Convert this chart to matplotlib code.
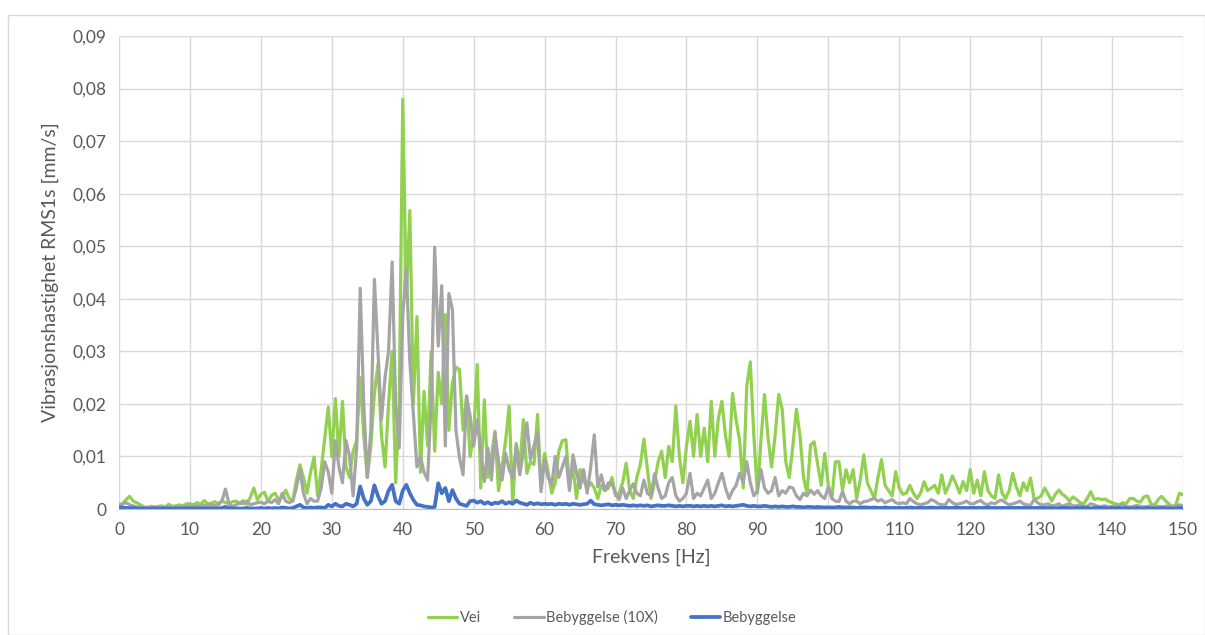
import matplotlib
matplotlib.use('Agg')
import matplotlib.pyplot as plt
import numpy as np
from matplotlib.patches import Rectangle
from matplotlib.ticker import FuncFormatter, MultipleLocator

# frequency axis, 0.5 Hz steps from 0 to 150 Hz
freq = np.arange(0, 150.5, 0.5)

# Vei, RMS 1s velocity in 1e-3 mm/s
vei = [
    0.8, 1.0, 1.8, 2.4, 1.5, 1.2, 0.8, 0.4, 0.3, 0.5, 0.4, 0.5, 0.6, 0.4, 0.9, 0.5, 0.6, 0.8, 0.6, 1.0, 1.0,
    0.8, 1.2, 0.9, 1.6, 1.0, 1.1, 1.4, 1.0, 1.6, 1.2, 1.0, 1.4, 1.5, 1.0, 1.6, 0.9, 2.2, 4.0, 1.8, 2.8,
    3.2, 1.4, 2.6, 3.0, 1.8, 2.2, 3.6, 2.0, 1.6, 5.5, 8.4, 6.0, 3.0, 7.0, 9.9, 2.5, 7.5, 13.5, 19.4, 10.0,
    21.0, 10.0, 20.5, 8.0, 6.0, 11.0, 13.0, 25.0, 14.0, 6.0, 12.0, 22.0, 27.5, 14.0, 8.0, 20.0, 30.0, 5.0, 20.0, 78.0,
    40.0, 56.8, 20.0, 36.6, 7.0, 22.4, 12.0, 30.0, 11.0, 26.0, 20.0, 37.0, 15.0, 24.0, 27.0, 26.5, 15.0, 21.5, 10.0, 14.0,
    27.5, 4.0, 20.8, 6.0, 10.0, 14.8, 3.5, 8.0, 13.0, 19.6, 1.0, 12.5, 8.0, 17.0, 6.8, 9.0, 8.5, 18.0, 4.0, 10.6,
    7.0, 3.0, 5.0, 11.0, 13.0, 13.2, 4.5, 8.0, 2.0, 7.5, 5.5, 4.0, 5.0, 4.0, 2.0, 4.5, 3.5, 4.0, 6.0, 2.5,
    3.0, 5.0, 8.7, 3.5, 2.0, 6.0, 8.5, 13.3, 7.5, 2.0, 5.0, 9.0, 11.0, 6.0, 11.9, 9.0, 19.6, 10.0, 5.0, 12.0,
    16.7, 10.0, 18.0, 10.0, 15.4, 9.0, 20.5, 10.0, 17.3, 20.5, 14.0, 10.0, 22.0, 17.0, 13.0, 4.0, 23.4, 28.0, 14.0, 3.0,
    13.0, 21.8, 13.5, 8.0, 14.0, 21.8, 19.0, 9.0, 6.0, 12.0, 19.0, 14.0, 6.0, 3.0, 12.2, 12.8, 8.5, 4.5, 10.6, 4.5,
    2.0, 9.0, 9.0, 3.5, 7.5, 5.0, 7.5, 2.0, 5.5, 10.3, 5.0, 3.5, 2.0, 6.0, 9.4, 4.5, 3.5, 2.5, 7.1, 4.0,
    2.8, 3.0, 4.5, 3.0, 2.0, 3.0, 5.2, 3.5, 4.0, 4.5, 3.0, 6.5, 3.0, 4.5, 6.3, 4.8, 3.0, 5.2, 3.5, 7.5,
    3.0, 5.5, 2.5, 7.1, 3.5, 2.5, 2.0, 6.5, 3.0, 2.0, 3.5, 6.8, 4.2, 2.5, 5.0, 3.5, 5.9, 2.0, 2.0, 2.5,
    4.0, 2.8, 1.5, 2.8, 3.6, 2.8, 2.3, 1.5, 2.3, 1.8, 1.2, 1.0, 2.0, 3.3, 1.8, 2.0, 1.8, 1.9, 1.5, 1.2,
    1.0, 0.8, 1.2, 1.0, 2.0, 2.0, 1.5, 1.3, 2.3, 2.5, 1.0, 0.7, 1.8, 2.4, 1.6, 1.0, 0.5, 0.8, 3.0, 2.7,
]

# Bebyggelse, scaled x10
beb10 = [
    0.8, 1.0, 1.2, 0.8, 0.6, 0.4, 0.3, 0.3, 0.2, 0.3, 0.3, 0.2, 0.3, 0.2, 0.3, 0.2, 0.3, 0.4, 0.3, 0.5, 0.6,
    0.5, 0.6, 0.5, 0.7, 0.6, 0.8, 0.6, 0.8, 1.5, 3.8, 1.0, 0.5, 0.8, 1.2, 1.0, 1.5, 0.8, 1.0, 1.2, 1.3,
    1.0, 1.5, 1.2, 1.8, 1.0, 3.0, 1.5, 1.2, 1.5, 4.0, 7.5, 3.0, 1.0, 2.0, 1.5, 1.5, 4.0, 9.0, 7.0, 3.0,
    13.0, 8.0, 5.0, 13.0, 10.0, 2.5, 11.6, 42.0, 20.0, 6.0, 15.0, 43.7, 30.0, 17.0, 25.0, 30.0, 47.0, 20.0, 11.6, 37.0,
    45.7, 28.0, 18.0, 8.0, 10.0, 7.0, 5.5, 20.0, 49.8, 31.0, 42.5, 12.0, 41.0, 38.0, 15.0, 9.7, 6.5, 21.5, 17.6, 12.0,
    17.0, 11.0, 5.2, 11.6, 5.5, 14.5, 9.0, 5.5, 10.6, 7.5, 6.0, 12.0, 6.5, 11.0, 16.4, 9.5, 12.0, 14.5, 3.3, 9.5,
    6.0, 4.5, 10.0, 6.0, 8.0, 10.0, 3.5, 10.3, 7.0, 4.0, 7.5, 3.0, 8.0, 14.1, 4.2, 6.5, 3.5, 5.0, 4.8, 3.0,
    1.8, 4.0, 2.0, 3.5, 4.8, 3.0, 2.5, 5.5, 3.0, 2.5, 6.7, 4.0, 2.0, 2.5, 5.0, 6.0, 2.5, 1.5, 2.0, 3.0,
    6.8, 2.0, 3.0, 2.5, 4.0, 5.5, 2.0, 3.0, 5.0, 6.8, 4.0, 2.0, 3.5, 4.5, 6.8, 5.0, 9.0, 5.0, 2.5, 3.5,
    7.5, 4.0, 3.0, 3.5, 6.0, 2.5, 3.5, 3.0, 4.2, 4.0, 2.5, 1.8, 3.0, 2.5, 3.6, 2.8, 3.5, 2.5, 2.0, 4.2,
    2.0, 1.5, 1.4, 3.3, 1.5, 1.0, 1.5, 1.5, 1.0, 1.4, 1.5, 1.8, 2.0, 1.5, 1.8, 1.2, 1.5, 1.8, 1.2, 1.0,
    1.2, 1.0, 2.0, 1.4, 1.0, 0.8, 1.0, 1.2, 1.8, 1.5, 1.0, 0.8, 0.8, 1.8, 1.2, 0.9, 1.0, 1.2, 1.5, 1.0,
    1.0, 1.4, 1.6, 1.0, 0.8, 1.2, 1.0, 1.5, 1.7, 1.2, 0.8, 1.0, 1.2, 1.5, 1.0, 0.8, 0.7, 1.8, 1.2, 0.8,
    0.8, 1.0, 0.6, 0.7, 1.0, 0.5, 0.8, 1.0, 0.6, 0.6, 0.8, 0.5, 0.5, 1.0, 0.8, 0.5, 0.5, 0.6, 0.4, 0.5,
    0.5, 0.6, 0.8, 0.4, 0.4, 0.5, 0.7, 0.5, 0.4, 0.5, 0.6, 0.4, 0.5, 0.4, 0.5, 0.6, 0.4, 0.5, 0.8, 0.6,
]

# Bebyggelse
beb = [
    0.3, 0.3, 0.2, 0.2, 0.2, 0.1, 0.1, 0.1, 0.1, 0.1, 0.1, 0.1, 0.1, 0.1, 0.1, 0.1, 0.1, 0.1, 0.1, 0.1, 0.1,
    0.1, 0.1, 0.1, 0.1, 0.1, 0.1, 0.1, 0.1, 0.2, 0.4, 0.2, 0.1, 0.1, 0.1, 0.1, 0.2, 0.1, 0.1, 0.1, 0.2,
    0.1, 0.2, 0.1, 0.2, 0.1, 0.3, 0.2, 0.1, 0.2, 0.5, 0.8, 0.3, 0.2, 0.3, 0.2, 0.3, 0.3, 0.2, 0.8, 0.5,
    1.0, 0.6, 0.5, 1.0, 0.8, 0.5, 1.0, 4.3, 2.0, 0.8, 1.5, 4.5, 2.5, 1.0, 1.5, 3.5, 4.6, 1.5, 1.0, 3.5,
    4.6, 3.0, 1.7, 0.8, 0.7, 0.5, 0.4, 0.3, 0.4, 4.9, 3.0, 4.0, 1.5, 3.6, 2.0, 1.0, 0.8, 0.6, 1.5, 1.6,
    1.2, 1.5, 1.0, 1.3, 0.9, 1.2, 1.1, 1.5, 1.0, 1.3, 1.0, 1.6, 1.2, 1.0, 0.8, 1.2, 0.9, 1.1, 0.9, 1.0,
    0.9, 1.0, 0.8, 1.0, 0.9, 1.0, 0.8, 1.0, 0.9, 0.8, 0.9, 1.0, 1.6, 0.9, 0.8, 0.7, 0.8, 0.9, 0.7, 0.8,
    0.7, 0.8, 0.7, 0.6, 0.7, 0.6, 0.7, 0.6, 0.7, 0.5, 0.6, 0.7, 0.6, 0.6, 0.7, 0.6, 0.5, 0.6, 0.5, 0.6,
    0.6, 0.5, 0.6, 0.5, 0.6, 0.5, 0.6, 0.5, 0.6, 0.7, 0.5, 0.6, 0.5, 0.6, 0.7, 0.8, 0.6, 0.5, 0.6, 0.5,
    0.5, 0.6, 0.5, 0.4, 0.5, 0.4, 0.5, 0.4, 0.4, 0.5, 0.4, 0.4, 0.3, 0.4, 0.4, 0.3, 0.4, 0.3, 0.3, 0.3,
    0.3, 0.3, 0.4, 0.3, 0.3, 0.3, 0.3, 0.2, 0.3, 0.3, 0.3, 0.2, 0.3, 0.2, 0.2, 0.3, 0.2, 0.2, 0.2, 0.2,
    0.2, 0.2, 0.3, 0.2, 0.2, 0.2, 0.2, 0.2, 0.3, 0.2, 0.2, 0.2, 0.2, 0.2, 0.2, 0.3, 0.2, 0.2, 0.2, 0.2,
    0.2, 0.2, 0.2, 0.2, 0.3, 0.2, 0.2, 0.2, 0.2, 0.2, 0.2, 0.2, 0.2, 0.2, 0.2, 0.2, 0.2, 0.2, 0.2, 0.2,
    0.2, 0.2, 0.2, 0.1, 0.2, 0.2, 0.2, 0.2, 0.1, 0.2, 0.2, 0.2, 0.2, 0.1, 0.2, 0.2, 0.2, 0.2, 0.1, 0.2,
    0.1, 0.2, 0.1, 0.2, 0.1, 0.1, 0.2, 0.1, 0.1, 0.2, 0.1, 0.1, 0.1, 0.2, 0.1, 0.1, 0.1, 0.1, 0.2, 0.1,
]

series = [
    ("Vei", vei, '#92D050', 2.3),
    ("Bebyggelse (10X)", beb10, '#A5A5A5', 2.3),
    ("Bebyggelse", beb, '#4472C4', 2.7),
]

plt.rcParams['font.family'] = ['Lato', 'DejaVu Sans']
text_col = '#595959'
grid_col = '#D9D9D9'

fig = plt.figure(figsize=(12.05, 6.35), dpi=100)
ax = fig.add_axes([0.0988, 0.1984, 0.8829, 0.7449])

for name, vals, col, lw in series:
    ax.plot(freq, np.array(vals) / 1000.0, color=col, lw=lw, label=name,
            solid_joinstyle='round', solid_capstyle='round')

ax.set_xlim(0, 150)
ax.set_ylim(0, 0.09)
ax.xaxis.set_major_locator(MultipleLocator(10))
ax.yaxis.set_major_locator(MultipleLocator(0.01))
ax.yaxis.set_major_formatter(FuncFormatter(
    lambda v, p: '0' if abs(v) < 1e-9 else f'{v:.2f}'.replace('.', ',')))

ax.grid(True, color=grid_col, lw=1)
ax.set_axisbelow(True)
for side in ['top', 'right', 'left']:
    ax.spines[side].set_visible(False)
ax.spines['bottom'].set_color('#BFBFBF')
ax.tick_params(length=0, labelsize=12.5, colors=text_col, pad=9)

ax.set_xlabel('Frekvens [Hz]', fontsize=14, color=text_col, labelpad=8)
ax.set_ylabel('Vibrasjonshastighet RMS1s [mm/s]', fontsize=14, color=text_col, labelpad=10)

fig.legend(loc='center', bbox_to_anchor=(0.508, 0.027), ncol=3, frameon=False,
           fontsize=10.5, labelcolor=text_col, handlelength=2.0, handletextpad=0.15,
           columnspacing=2.3)

# chart frame
fig.patches.append(Rectangle((8 / 1205, 0), 1 - 8 / 1205, 1 - 15 / 635,
                             transform=fig.transFigure, fill=False,
                             edgecolor=grid_col, lw=1))

fig.savefig('out.png', dpi=100)
